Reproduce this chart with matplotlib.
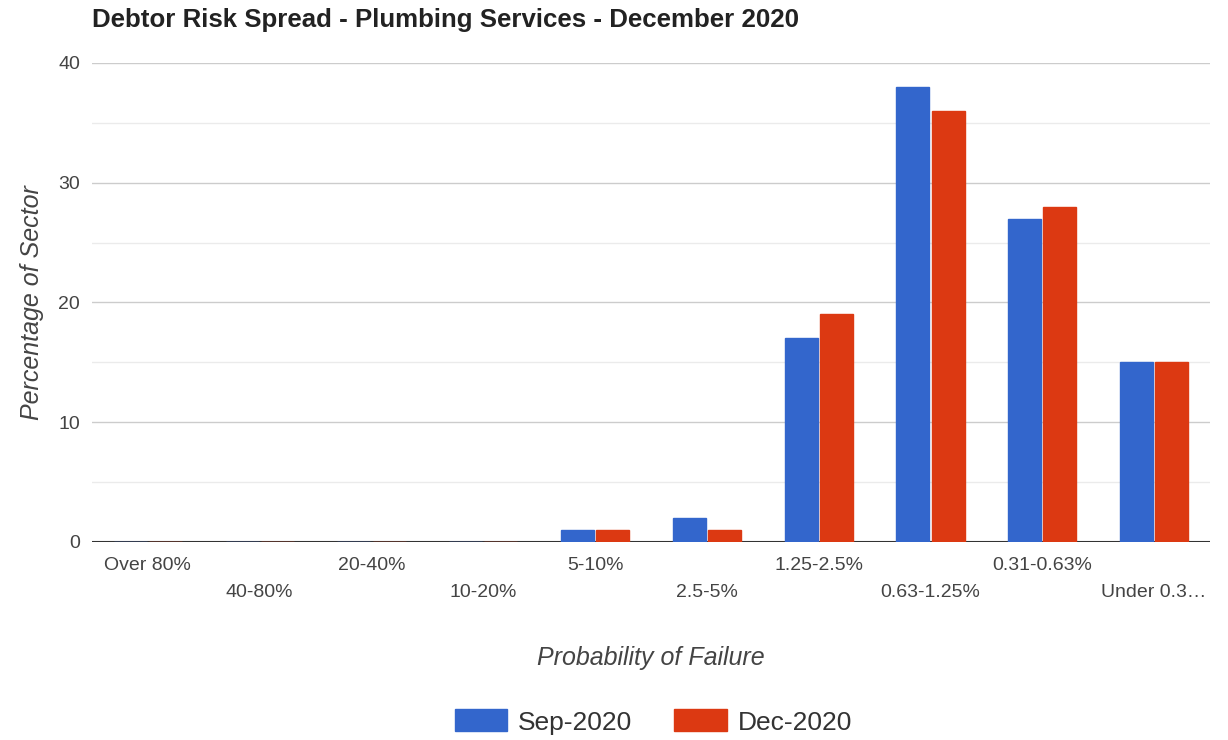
import numpy as np
import matplotlib.pyplot as plt
from matplotlib.patches import Patch

categories = ["Over 80%", "40-80%", "20-40%", "10-20%", "5-10%", "2.5-5%",
              "1.25-2.5%", "0.63-1.25%", "0.31-0.63%", "Under 0.3\u2026"]
sep_2020 = [0, 0, 0, 0, 1, 2, 17, 38, 27, 15]
dec_2020 = [0, 0, 0, 0, 1, 1, 19, 36, 28, 15]
series_names = ["Sep-2020", "Dec-2020"]

BLUE = "#3366cc"
RED = "#dc3912"

plt.rcParams['font.family'] = ['Liberation Sans', 'DejaVu Sans']

fig = plt.figure(figsize=(12.28, 7.4), dpi=100)
ax = fig.add_axes([0.0749, 0.2676, 0.9104, 0.6473])

x = np.arange(len(categories))
w = 0.295
gap = 0.01
ax.bar(x - w / 2 - gap, sep_2020, width=w, color=BLUE, edgecolor=BLUE, linewidth=1, zorder=3)
ax.bar(x + w / 2 + gap, dec_2020, width=w, color=RED, edgecolor=RED, linewidth=1, zorder=3)

ax.set_xlim(-0.5, len(categories) - 0.5)
ax.set_ylim(0, 40)

# gridlines like google charts
ax.set_yticks([0, 10, 20, 30, 40])
ax.set_yticks([5, 15, 25, 35], minor=True)
ax.grid(True, which='major', axis='y', color='#cccccc', linewidth=1, zorder=0)
ax.grid(True, which='minor', axis='y', color='#ebebeb', linewidth=1, zorder=0)
ax.axhline(0, color='#333333', linewidth=1.5, zorder=2)

for s in ax.spines.values():
    s.set_visible(False)

ax.tick_params(axis='y', which='both', length=0, pad=8.5, labelsize=14, labelcolor='#444444')
ax.tick_params(axis='x', length=0, labelsize=14, labelcolor='#444444')
ax.set_xticks(x)
ax.set_xticklabels(categories)
for i, t in enumerate(ax.xaxis.get_major_ticks()):
    t.set_pad(11 if i % 2 == 0 else 30.5)

ax.set_ylabel("Percentage of Sector", fontsize=18, style='italic', color='#444444', labelpad=10)
ax.set_xlabel("Probability of Failure", fontsize=18, style='italic', color='#444444', labelpad=32)

fig.text(92 / 1228, 1 - 20 / 740, "Debtor Risk Spread - Plumbing Services - December 2020",
         fontsize=18.6, fontweight='bold', color='#222222', va='center', ha='left')

handles = [Patch(facecolor=BLUE, edgecolor=BLUE), Patch(facecolor=RED, edgecolor=RED)]
fig.legend(handles, series_names, loc='center', bbox_to_anchor=(0.532, 1 - 722 / 740),
           ncol=2, frameon=False, fontsize=19, handlelength=2.0, handleheight=0.9,
           columnspacing=1.6, handletextpad=0.4, labelcolor='#333333')

fig.savefig("out.png", dpi=100)
